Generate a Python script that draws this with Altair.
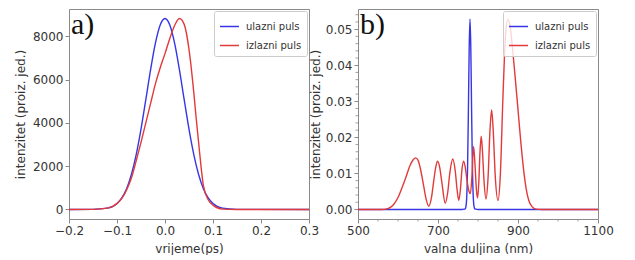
import altair as alt
import pandas as pd

# ---------------- data ----------------
series_names = ["ulazni puls", "izlazni puls"]
series_colors = ["#3636e6", "#e23a3a"]
panel_labels = ["a)", "b)"]

# panel a: time domain
t_in = [-0.2, -0.15, -0.12, -0.1, -0.09, -0.08, -0.07, -0.06, -0.05, -0.04, -0.03, -0.02, -0.01,
        0.0, 0.01, 0.02, 0.03, 0.04, 0.05, 0.06, 0.07, 0.08, 0.09, 0.1, 0.12, 0.15, 0.3]
I_in = [0, 5, 60, 277, 535, 961, 1617, 2535, 3711, 5070, 6460, 7680, 8520,
        8820, 8520, 7680, 6460, 5070, 3711, 2535, 1617, 961, 535, 277, 60, 5, 0]

t_out = [-0.2, -0.15, -0.12, -0.1, -0.09, -0.08, -0.07, -0.06, -0.05, -0.04, -0.03, -0.02, -0.01,
         0.0, 0.01, 0.02, 0.03, 0.04, 0.05, 0.06, 0.065, 0.07, 0.075, 0.08, 0.09, 0.1, 0.12, 0.15, 0.3]
I_out = [0, 5, 60, 270, 510, 900, 1450, 2250, 3100, 4000, 4900, 5800, 6550,
         7200, 7900, 8500, 8820, 8550, 7400, 5400, 4200, 3100, 2000, 1100, 450, 200, 15, 0, 0]

# panel b: spectrum
wl_in = [500, 760, 766, 768, 770, 772, 774, 776, 778, 780, 782, 784, 786, 788, 790, 792, 794, 800, 1100]
S_in = [0, 0, 0.0001, 0.00015, 0.0009, 0.0039, 0.0121, 0.0275, 0.045, 0.0528, 0.045, 0.0275, 0.0121,
        0.0039, 0.0009, 0.00015, 0.0001, 0, 0]

wl_out = [500, 560, 570, 580, 590, 600, 610, 620, 630, 638, 644, 650, 657, 664, 670, 677,
          684, 690, 695, 699, 704, 710, 718, 724, 730, 737, 743, 748, 752, 756, 760, 764,
          768, 772, 777, 781, 785, 789, 793, 796, 799, 802, 805, 808, 811, 815, 820, 825,
          830, 834, 838, 843, 850, 856, 862, 866, 870, 875, 880, 886, 892, 899, 906, 913,
          920, 927, 935, 945, 960, 1100]
S_out = [0, 0, 0.0001, 0.0005, 0.0015, 0.0033, 0.006, 0.009, 0.0122, 0.0138, 0.0143, 0.0137, 0.0108, 0.0066, 0.003, 0.0009,
         0.0035, 0.0085, 0.0121, 0.0134, 0.0118, 0.0072, 0.0017, 0.0045, 0.0105, 0.0140, 0.0108, 0.0052, 0.0025, 0.0055, 0.0112, 0.0134,
         0.0118, 0.0085, 0.0052, 0.0044, 0.0095, 0.0175, 0.0115, 0.0055, 0.0032, 0.0075, 0.016, 0.0203, 0.0165, 0.008, 0.0029, 0.0085,
         0.022, 0.0276, 0.022, 0.0095, 0.0025, 0.010, 0.030, 0.042, 0.050, 0.0528, 0.051, 0.045, 0.0378, 0.029, 0.020, 0.012,
         0.006, 0.0025, 0.0008, 0.0001, 0, 0]

x_ticks_a = [-0.2, -0.1, 0.0, 0.1, 0.2, 0.3]
y_ticks_a = [0, 2000, 4000, 6000, 8000]
x_ticks_b = [500, 700, 900, 1100]
y_ticks_b = [0.0, 0.01, 0.02, 0.03, 0.04, 0.05]
minor_x_b = [550, 600, 650, 750, 800, 850, 950, 1000, 1050]
minor_y_b = [round(0.002 * k, 3) for k in range(1, 28) if k % 5 != 0]

# ---------------- layout ----------------
W, H = 240, 210
GRAY = "#8a8a8a"
TXT = "#333333"

color_scale = alt.Scale(domain=series_names, range=series_colors)


def legend():
    return alt.Legend(orient="top-right", title=None, offset=2, padding=5,
                      fillColor="rgba(255,255,255,0.8)", strokeColor="#cccccc",
                      cornerRadius=2, labelFontSize=10, labelFont="DejaVu Sans",
                      labelColor=TXT, symbolType="stroke", symbolSize=360,
                      symbolStrokeWidth=1.5, rowPadding=3, labelOffset=6)


def panel(xs_in, ys_in, xs_out, ys_out, xdom, ydom, xticks, yticks, xfmt, yfmt,
          xtitle, label, title_pad):
    df = pd.DataFrame({
        "x": list(xs_in) + list(xs_out),
        "y": list(ys_in) + list(ys_out),
        "s": [series_names[0]] * len(xs_in) + [series_names[1]] * len(xs_out),
    })
    xs = alt.Scale(domain=xdom, nice=False, zero=False)
    ys = alt.Scale(domain=ydom, nice=False, zero=False)
    xax = alt.Axis(values=xticks, format=xfmt, title=xtitle, labelFlush=False,
                   labelPadding=2, titlePadding=7)
    yax = alt.Axis(values=yticks, format=yfmt, title="intenzitet (proiz. jed.)",
                   labelPadding=2, titlePadding=title_pad)
    lines = alt.Chart(df).mark_line(interpolate="monotone", strokeWidth=1.4).encode(
        x=alt.X("x:Q", scale=xs, axis=xax, title=xtitle),
        y=alt.Y("y:Q", scale=ys, axis=yax, title="intenzitet (proiz. jed.)"),
        color=alt.Color("s:N", scale=color_scale, sort=series_names, legend=legend()),
    )
    txt = alt.Chart(pd.DataFrame({"t": [label]})).mark_text(
        font="Liberation Serif", fontSize=30, align="left", baseline="top", color="#111111"
    ).encode(x=alt.value(2), y=alt.value(1), text="t:N")
    return lines, txt, xs, ys, xax, yax, xtitle


la, ta, _, _, _, _, _ = panel(t_in, I_in, t_out, I_out, [-0.2, 0.3], [-441, 9261],
                              x_ticks_a, y_ticks_a, ".1f", "d", "vrijeme(ps)", panel_labels[0], 5)
left = alt.layer(la, ta).properties(width=W, height=H)

lb, tb, xsb, ysb, xaxb, yaxb, xtb = panel(wl_in, S_in, wl_out, S_out, [500, 1100], [-0.00265, 0.0556],
                                          x_ticks_b, y_ticks_b, "d", ".2f", "valna duljina (nm)",
                                          panel_labels[1], 3)
mx = alt.Chart(pd.DataFrame({"v": minor_x_b})).mark_rule(color=GRAY, strokeWidth=0.8).encode(
    x=alt.X("v:Q", scale=xsb, axis=xaxb, title=xtb), y=alt.value(H), y2=alt.value(H + 2.5))
my = alt.Chart(pd.DataFrame({"v": minor_y_b})).mark_rule(color=GRAY, strokeWidth=0.8).encode(
    y=alt.Y("v:Q", scale=ysb, axis=yaxb, title="intenzitet (proiz. jed.)"),
    x=alt.value(-2.5), x2=alt.value(0))
right = alt.layer(lb, mx, my, tb).properties(width=W, height=H)

chart = alt.hconcat(left, right, spacing=49, bounds="flush").resolve_scale(
    color="independent"
).configure(
    padding={"left": 5, "top": 0, "right": 0, "bottom": 0}
).configure_view(stroke=GRAY, strokeWidth=1).configure_axis(
    domain=False, grid=False, tickColor=GRAY, tickSize=4, tickWidth=1,
    labelFont="DejaVu Sans", labelFontSize=12, labelColor=TXT,
    titleFont="DejaVu Sans", titleFontSize=12, titleFontWeight="normal", titleColor=TXT,
)

chart.save("out.html", embed_options={"renderer": "svg", "actions": False})
